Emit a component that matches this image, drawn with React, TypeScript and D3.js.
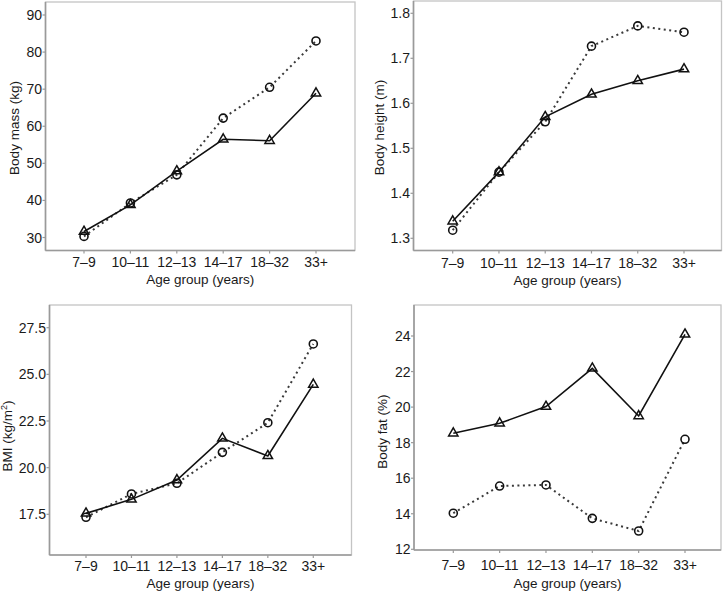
import React from "react";
import * as d3 from "d3";

const categories = ["7–9", "10–11", "12–13", "14–17", "18–32", "33+"];

const massCircle = [30.3, 39.3, 46.9, 62.2, 70.5, 83.0];
const massTriangle = [31.6, 38.8, 47.9, 56.5, 56.1, 68.9];
const massTicks = [30, 40, 50, 60, 70, 80, 90];

const heightCircle = [1.318, 1.447, 1.559, 1.727, 1.772, 1.758];
const heightTriangle = [1.338, 1.447, 1.570, 1.620, 1.650, 1.676];
const heightTicks = [1.3, 1.4, 1.5, 1.6, 1.7, 1.8];

const bmiCircle = [17.34, 18.59, 19.16, 20.82, 22.41, 26.63];
const bmiTriangle = [17.55, 18.3, 19.34, 21.57, 20.63, 24.46];
const bmiTicks = [17.5, 20.0, 22.5, 25.0, 27.5];

const fatCircle = [14.03, 15.56, 15.62, 13.74, 13.03, 18.19];
const fatTriangle = [18.53, 19.09, 20.03, 22.18, 19.5, 24.09];
const fatTicks = [12, 14, 16, 18, 20, 22, 24];

type Panel = {
  box: { l: number; r: number; t: number; b: number };
  xRange: [number, number];
  yDomain: [number, number];
  yRange: [number, number];
  ticks: number[];
  fmt: (v: number) => string;
  circle: number[];
  triangle: number[];
  yLabel: React.ReactNode;
  yLabelX: number;
  yLabelY: number;
  xTickY: number;
  xTitleY: number;
};

const panels: Panel[] = [
  {
    box: { l: 45.5, r: 355, t: 2, b: 250.5 },
    xRange: [84, 316],
    yDomain: [30, 90],
    yRange: [237.5, 15],
    ticks: massTicks,
    fmt: (v) => String(v),
    circle: massCircle,
    triangle: massTriangle,
    yLabel: "Body mass (kg)",
    yLabelX: 18.5,
    yLabelY: 128,
    xTickY: 267,
    xTitleY: 284,
  },
  {
    box: { l: 413.5, r: 721.5, t: 1, b: 250.5 },
    xRange: [452.7, 684],
    yDomain: [1.3, 1.8],
    yRange: [238.3, 13.3],
    ticks: heightTicks,
    fmt: (v) => v.toFixed(1),
    circle: heightCircle,
    triangle: heightTriangle,
    yLabel: "Body height (m)",
    yLabelX: 383.5,
    yLabelY: 127.5,
    xTickY: 268,
    xTitleY: 285,
  },
  {
    box: { l: 49.5, r: 351.5, t: 305, b: 555 },
    xRange: [86, 313.3],
    yDomain: [17.5, 27.5],
    yRange: [514.3, 327.7],
    ticks: bmiTicks,
    fmt: (v) => v.toFixed(1),
    circle: bmiCircle,
    triangle: bmiTriangle,
    yLabel: (
      <>
        BMI (kg/m
        <tspan dy={-5} fontSize={9}>
          2
        </tspan>
        <tspan dy={5}>)</tspan>
      </>
    ),
    yLabelX: 11.5,
    yLabelY: 436,
    xTickY: 570.5,
    xTitleY: 588,
  },
  {
    box: { l: 414, r: 721, t: 305, b: 550 },
    xRange: [453.3, 685],
    yDomain: [12, 24],
    yRange: [549.3, 336],
    ticks: fatTicks,
    fmt: (v) => String(v),
    circle: fatCircle,
    triangle: fatTriangle,
    yLabel: "Body fat (%)",
    yLabelX: 387,
    yLabelY: 431.7,
    xTickY: 570,
    xTitleY: 588,
  },
];

const FONT = "'Liberation Sans', Arial, Helvetica, sans-serif";

function PanelView({ p }: { p: Panel }) {
  const x = d3.scalePoint<string>().domain(categories).range(p.xRange);
  const y = d3.scaleLinear().domain(p.yDomain).range(p.yRange);
  const line = d3
    .line<number>()
    .x((_, i) => x(categories[i]) as number)
    .y((d) => y(d));
  const tri = d3.symbol().type(d3.symbolTriangle).size(38)();
  const { l, r, t, b } = p.box;
  return (
    <g fontFamily={FONT}>
      <rect x={l} y={t} width={r - l} height={b - t} fill="#fff" stroke="#c4c4c4" strokeWidth={1.3} />
      <line x1={l} x2={l} y1={t} y2={b} stroke="#9a9a9a" strokeWidth={1.6} />
      <line x1={l} x2={r} y1={b} y2={b} stroke="#9a9a9a" strokeWidth={1.6} />
      {p.ticks.map((v) => (
        <g key={v}>
          <line x1={l - 3} x2={l} y1={y(v)} y2={y(v)} stroke="#9a9a9a" strokeWidth={1.2} />
          <text x={l - 3.5} y={y(v)} dy="0.36em" textAnchor="end" fontSize={14} fill="#1a1a1a">
            {p.fmt(v)}
          </text>
        </g>
      ))}
      {categories.map((c) => (
        <g key={c}>
          <line x1={x(c)} x2={x(c)} y1={b} y2={b + 3} stroke="#9a9a9a" strokeWidth={1.2} />
          <text x={x(c)} y={p.xTickY} textAnchor="middle" fontSize={14} fill="#1a1a1a">
            {c}
          </text>
        </g>
      ))}
      <text x={(l + r) / 2 - 0} y={p.xTitleY} textAnchor="middle" fontSize={13.5} fill="#1a1a1a">
        Age group (years)
      </text>
      <text
        transform={`translate(${p.yLabelX},${p.yLabelY}) rotate(-90)`}
        textAnchor="middle"
        fontSize={13.5}
        fill="#1a1a1a"
      >
        {p.yLabel}
      </text>
      <path d={line(p.circle) || ""} fill="none" stroke="#3a3a3a" strokeWidth={2} strokeDasharray="2,3.5" />
      <path d={line(p.triangle) || ""} fill="none" stroke="#111" strokeWidth={1.6} />
      {p.circle.map((v, i) => (
        <circle key={"c" + i} cx={x(categories[i])} cy={y(v)} r={4} fill="none" stroke="#111" strokeWidth={1.6} />
      ))}
      {p.triangle.map((v, i) => (
        <path
          key={"t" + i}
          d={tri || ""}
          transform={`translate(${x(categories[i])},${y(v)})`}
          fill="none"
          stroke="#111"
          strokeWidth={1.5}
        />
      ))}
    </g>
  );
}

export default function App() {
  return (
    <svg
      width={725}
      height={591}
      style={{ position: "absolute", left: 0, top: 0, background: "#fff" }}
    >
      <rect width={725} height={591} fill="#fff" />
      {panels.map((p, i) => (
        <PanelView key={i} p={p} />
      ))}
    </svg>
  );
}
